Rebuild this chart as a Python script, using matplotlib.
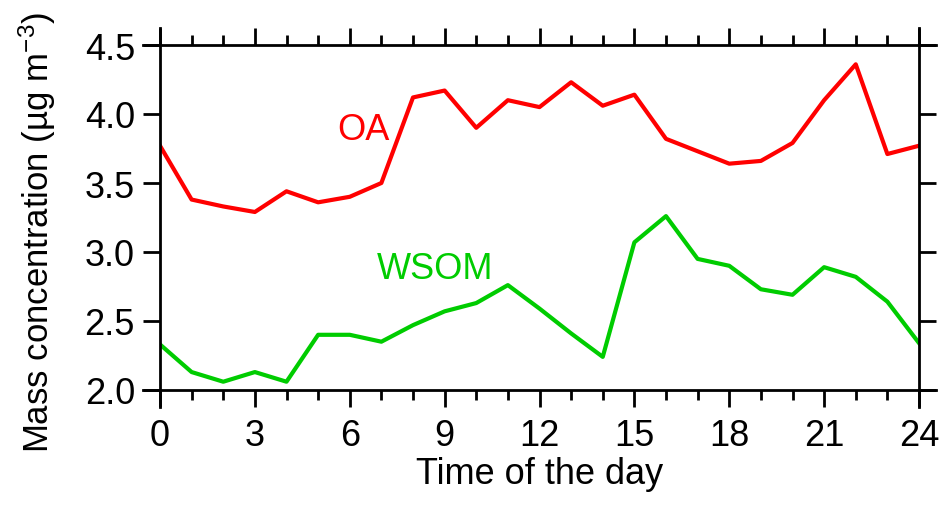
import matplotlib.pyplot as plt
from matplotlib.ticker import MultipleLocator

plt.rcParams['font.family'] = ['Liberation Sans', 'DejaVu Sans']
plt.rcParams['mathtext.fontset'] = 'custom'
plt.rcParams['mathtext.rm'] = 'Liberation Sans'
plt.rcParams['mathtext.it'] = 'Liberation Sans'

hours = list(range(25))
oa = [3.77, 3.38, 3.33, 3.29, 3.44, 3.36, 3.40, 3.50, 4.12, 4.17, 3.90, 4.10, 4.05,
      4.23, 4.06, 4.14, 3.82, 3.73, 3.64, 3.66, 3.79, 4.10, 4.36, 3.71, 3.77]
wsom = [2.33, 2.13, 2.06, 2.13, 2.06, 2.40, 2.40, 2.35, 2.47, 2.57, 2.63, 2.76, 2.59,
        2.41, 2.24, 3.07, 3.26, 2.95, 2.90, 2.73, 2.69, 2.89, 2.82, 2.64, 2.34]

fig = plt.figure(figsize=(9.41, 5.06), dpi=100)
ax = fig.add_axes([160 / 941, 1 - 391 / 506, 759 / 941, 345 / 506])

ax.plot(hours, oa, color='#ff0000', lw=3.0)
ax.plot(hours, wsom, color='#00cc00', lw=3.0)

ax.text(6.42, 3.89, 'OA', color='#ff0000', fontsize=26, ha='center', va='center')
ax.text(8.7, 2.88, 'WSOM', color='#00cc00', fontsize=26, ha='center', va='center')

ax.set_xlim(0, 24)
ax.set_ylim(2.0, 4.5)
ax.xaxis.set_major_locator(MultipleLocator(3))
ax.xaxis.set_minor_locator(MultipleLocator(1))
ax.yaxis.set_major_locator(MultipleLocator(0.5))
ax.yaxis.set_major_formatter(plt.FormatStrFormatter('%.1f'))

# axis lines run past the corners like the original
for side in ['left', 'right']:
    ax.spines[side].set_bounds(2.0 - 0.124, 4.5 + 0.124)
for side in ['top', 'bottom']:
    ax.spines[side].set_bounds(-0.54, 24.54)
for s in ax.spines.values():
    s.set_linewidth(2.0)

ax.tick_params(which='both', direction='out', top=True, right=True, width=2.0)
ax.tick_params(which='major', length=12, labelsize=26, pad=6)
ax.tick_params(which='minor', length=7)
ax.tick_params(axis='x', which='major', pad=8)

ax.set_xlabel('Time of the day', fontsize=26, labelpad=2)
ax.set_ylabel('Mass concentration (µg m$^{-3}$)', fontsize=25)
ax.yaxis.set_label_coords(-0.162, 0.46)
ax.yaxis.label.set_va('center')
ax.yaxis.label.set_ha('center')

fig.savefig('out.png', dpi=100)
